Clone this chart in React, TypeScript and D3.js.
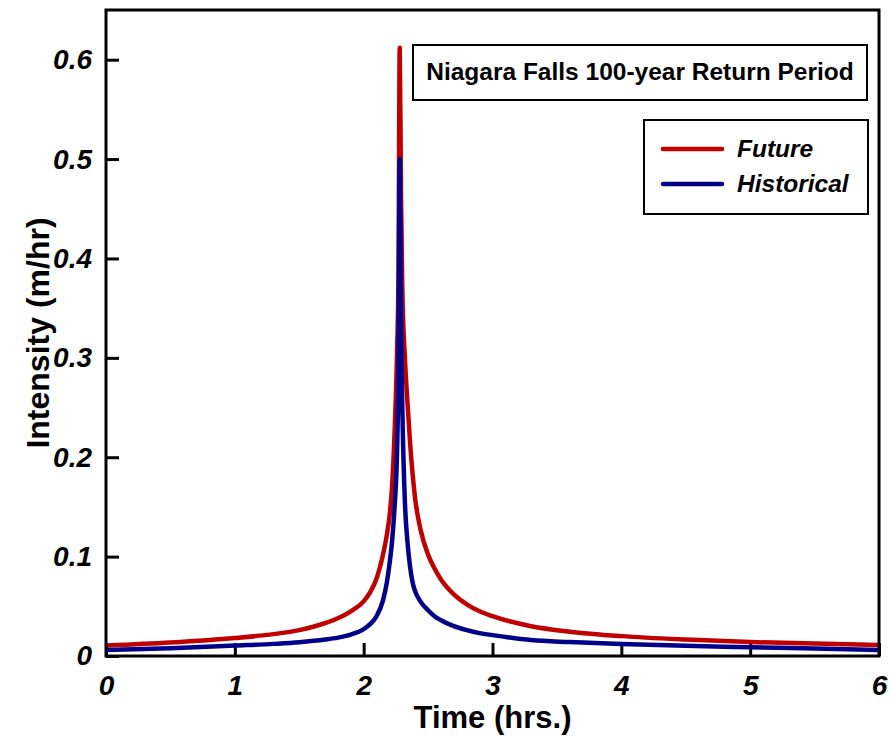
import React, { useEffect, useRef } from 'react';
import * as d3 from 'd3';

// hyetograph (time in hrs, intensity in m/hr)
const times = [0, 0.5, 1, 1.3, 1.5, 1.7, 1.8, 1.9, 2.0, 2.05, 2.1, 2.15, 2.18, 2.2, 2.22, 2.24, 2.26, 2.27, 2.28, 2.29, 2.3, 2.32, 2.34, 2.36, 2.38, 2.4, 2.44, 2.5, 2.55, 2.6, 2.7, 2.8, 2.9, 3.0, 3.3, 3.6, 4.0, 4.5, 5.0, 5.5, 6.0];
const future = [0.0105, 0.0135, 0.018, 0.022, 0.026, 0.033, 0.038, 0.045, 0.055, 0.064, 0.078, 0.102, 0.122, 0.14, 0.17, 0.225, 0.31, 0.38, 0.612, 0.46, 0.37, 0.30, 0.255, 0.215, 0.183, 0.158, 0.128, 0.102, 0.088, 0.077, 0.062, 0.052, 0.045, 0.040, 0.030, 0.0245, 0.020, 0.0165, 0.014, 0.0125, 0.011];
const historical = [0.006, 0.0078, 0.0105, 0.0122, 0.0138, 0.0165, 0.0185, 0.0215, 0.027, 0.032, 0.040, 0.056, 0.074, 0.092, 0.115, 0.15, 0.21, 0.29, 0.5, 0.33, 0.25, 0.155, 0.115, 0.09, 0.074, 0.065, 0.055, 0.046, 0.040, 0.036, 0.030, 0.026, 0.023, 0.021, 0.016, 0.014, 0.012, 0.0102, 0.0088, 0.0075, 0.006];

const xTicks = [0, 1, 2, 3, 4, 5, 6];
const yTicks = [0, 0.1, 0.2, 0.3, 0.4, 0.5, 0.6];
const seriesNames = ['Future', 'Historical'];
const seriesColors = ['#c00000', '#00008b'];
const chartTitle = 'Niagara Falls 100-year Return Period';
const xTitle = 'Time (hrs.)';
const yTitle = 'Intensity (m/hr)';

const FONT = "Arial, 'Liberation Sans', sans-serif";

function App() {
  const ref = useRef<SVGSVGElement>(null);

  useEffect(() => {
    const svg = d3.select(ref.current);
    svg.selectAll('*').remove();

    const box = { left: 106, top: 10, right: 879, bottom: 656 };
    const x = d3.scaleLinear().domain([0, 6]).range([box.left, box.right]);
    const y = d3.scaleLinear().domain([0, 0.65]).range([box.bottom, box.top]);

    svg.append('defs').append('clipPath').attr('id', 'plotclip')
      .append('rect')
      .attr('x', box.left).attr('y', 0)
      .attr('width', box.right - box.left).attr('height', box.bottom);

    // axes, ticks pointing inward
    const xAxis = d3.axisBottom(x).tickValues(xTicks).tickSizeInner(-13).tickSizeOuter(0).tickPadding(19).tickFormat(d3.format('d'));
    const gx = svg.append('g').attr('transform', `translate(0,${box.bottom})`).call(xAxis);
    const yAxis = d3.axisLeft(y).tickValues(yTicks).tickSizeInner(-13).tickSizeOuter(0).tickPadding(14)
      .tickFormat((d: any) => (d === 0 ? '0' : d3.format('.1f')(d)));
    const gy = svg.append('g').attr('transform', `translate(${box.left},0)`).call(yAxis);

    [gx, gy].forEach((g) => {
      g.select('.domain').remove();
      g.selectAll('line').attr('stroke', '#000').attr('stroke-width', 3);
      g.selectAll('text')
        .attr('fill', '#000')
        .style('font-family', FONT)
        .style('font-size', '28px')
        .style('font-weight', 'bold')
        .style('font-style', 'italic');
    });

    // lines
    const lines = [future, historical];
    lines.forEach((vals, i) => {
      const line = d3.line<number>()
        .x((_, j) => x(times[j]))
        .y((d) => y(d))
        .curve(d3.curveMonotoneX);
      svg.append('path')
        .datum(vals)
        .attr('clip-path', 'url(#plotclip)')
        .attr('fill', 'none')
        .attr('stroke', seriesColors[i])
        .attr('stroke-width', 4.5)
        .attr('stroke-linejoin', 'round')
        .attr('stroke-linecap', 'round')
        .attr('d', line);
    });

    // frame
    svg.append('rect')
      .attr('x', box.left).attr('y', box.top)
      .attr('width', box.right - box.left).attr('height', box.bottom - box.top)
      .attr('fill', 'none').attr('stroke', '#000').attr('stroke-width', 3);

    // axis titles
    svg.append('text')
      .attr('x', (box.left + box.right) / 2).attr('y', 728)
      .attr('text-anchor', 'middle')
      .style('font-family', FONT).style('font-size', '31px').style('font-weight', 'bold')
      .text(xTitle);
    svg.append('text')
      .attr('transform', `translate(49,${(box.top + box.bottom) / 2}) rotate(-90)`)
      .attr('text-anchor', 'middle')
      .style('font-family', FONT).style('font-size', '32px').style('font-weight', 'bold')
      .text(yTitle);

    // title box
    svg.append('rect')
      .attr('x', 413).attr('y', 45).attr('width', 454).attr('height', 55)
      .attr('fill', '#fff').attr('stroke', '#000').attr('stroke-width', 2);
    svg.append('text')
      .attr('x', 640).attr('y', 80).attr('text-anchor', 'middle')
      .style('font-family', FONT).style('font-size', '24.5px').style('font-weight', 'bold')
      .text(chartTitle);

    // legend
    const lg = svg.append('g');
    lg.append('rect')
      .attr('x', 644).attr('y', 120).attr('width', 224).attr('height', 94)
      .attr('fill', '#fff').attr('stroke', '#000').attr('stroke-width', 2);
    seriesNames.forEach((name, i) => {
      const yy = 149 + i * 35;
      lg.append('line')
        .attr('x1', 663).attr('x2', 722).attr('y1', yy).attr('y2', yy)
        .attr('stroke', seriesColors[i]).attr('stroke-width', 4.5).attr('stroke-linecap', 'round');
      lg.append('text')
        .attr('x', 737).attr('y', yy + 8)
        .style('font-family', FONT).style('font-size', '24.5px')
        .style('font-weight', 'bold').style('font-style', 'italic')
        .text(name);
    });
  }, []);

  return (
    <svg
      ref={ref}
      width={891}
      height={740}
      style={{ position: 'absolute', left: 0, top: 0, background: '#fff' }}
    />
  );
}

export default App;
